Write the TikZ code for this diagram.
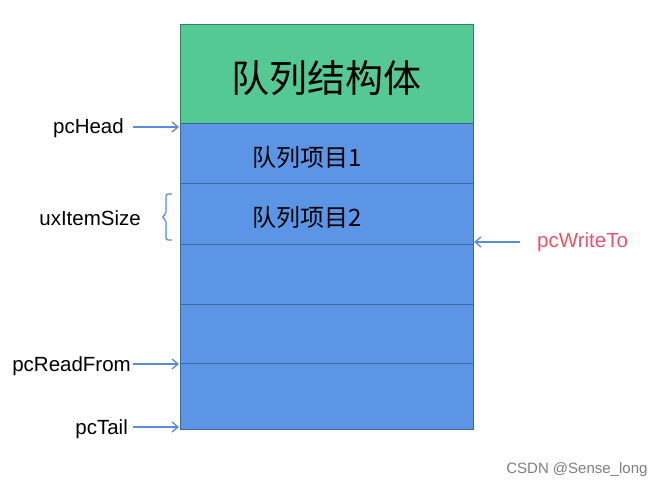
\documentclass[tikz,border=0pt]{standalone}
\usepackage{fontspec}
\setmainfont{Liberation Sans}
\newfontfamily\cjk{Noto Sans CJK SC}
\usetikzlibrary{arrows.meta}
\definecolor{gr}{RGB}{85,201,148}
\definecolor{grb}{RGB}{50,130,90}
\definecolor{bl}{RGB}{93,149,230}
\definecolor{blb}{RGB}{65,105,150}
\definecolor{arr}{RGB}{90,140,220}
\definecolor{pk}{RGB}{232,85,106}
\tikzset{lbl/.style={font=\fontsize{20.5}{24}\selectfont,inner sep=0pt},
item/.style={font=\cjk\fontsize{24}{28}\selectfont,inner sep=0pt},
ar/.style={draw=arr,line width=1.3pt,-{Straight Barb[length=6pt,width=10pt]}},
rowbox/.style={draw=blb,fill=bl,line width=1pt}}
\begin{document}
\begin{tikzpicture}[x=1pt,y=-1pt]
\useasboundingbox (0,0) rectangle (666,489);
\fill[white] (0,0) rectangle (666,489);
\draw[draw=grb,fill=gr,line width=1pt] (180,25) rectangle (473,124);
\node[font=\cjk\fontsize{38}{44}\selectfont] (title) at (326,78) {队列结构体};
\draw[rowbox] (180,124) rectangle (473,184);
\draw[rowbox] (180,184) rectangle (473,244);
\draw[rowbox] (180,244) rectangle (473,304);
\draw[rowbox] (180,304) rectangle (473,363);
\draw[rowbox] (180,363) rectangle (473,429);
\node[item] (i1) at (307,157) {队列项目1};
\node[item] (i2) at (307,217) {队列项目2};
\node[lbl,anchor=east] (h) at (124,128) {pcHead};
\coordinate (h2) at (179,127);
\draw[ar] (133,127) -- (h2);
\node[lbl,anchor=east] (u) at (141,218) {uxItemSize};
\draw[arr,line width=1.3pt,rounded corners=2pt] (172,194) -- (166,194) -- (166,214) -- (162,217) -- (166,220) -- (166,240) -- (172,240);
\node[lbl,anchor=west,text=pk] (w) at (537,242) {pcWriteTo};
\coordinate (w2) at (474,242);
\draw[ar] (520,242) -- (w2);
\node[lbl,anchor=east] (r) at (131,366) {pcReadFrom};
\coordinate (r2) at (179,364);
\draw[ar] (133,364) -- (r2);
\node[lbl,anchor=east] (t) at (128,429) {pcTail};
\coordinate (t2) at (179,427);
\draw[ar] (133,427) -- (t2);
\node[font=\fontsize{15}{18}\selectfont,text=gray,anchor=east] (wm) at (651,470) {CSDN @Sense\_long};
\end{tikzpicture}
\end{document}
